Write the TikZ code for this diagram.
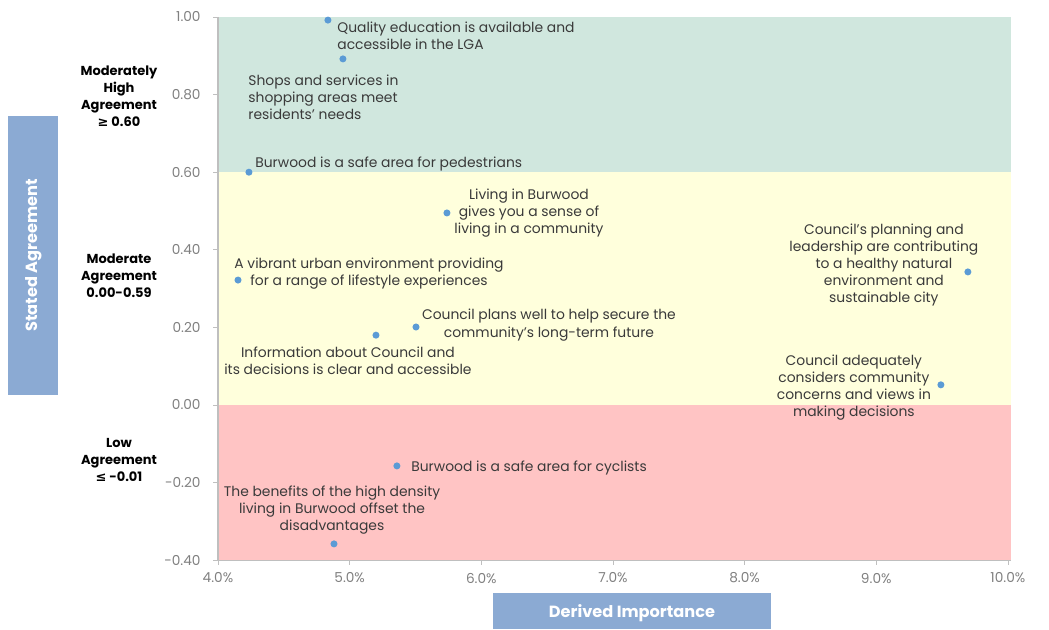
\documentclass[tikz,border=0pt]{standalone}
\usepackage{fontspec}
\setmainfont{Poppins}
\newfontfamily\symfont{DejaVu Sans}
\definecolor{highbg}{HTML}{D0E7DE}
\definecolor{midbg}{HTML}{FFFFDC}
\definecolor{lowbg}{HTML}{FFC4C4}
\definecolor{axisgray}{HTML}{BFBFBF}
\definecolor{ticktext}{HTML}{808080}
\definecolor{titlebox}{HTML}{8BAAD3}
\definecolor{dotblue}{HTML}{5B9BD5}
\definecolor{labeltext}{HTML}{3A3A3A}

\begin{document}
\begin{tikzpicture}[
  lbl/.style={font=\fontsize{7.9}{9.7}\selectfont, text=labeltext, inner sep=0pt},
  dot/.style={circle, fill=dotblue, inner sep=0pt, minimum size=4pt},
  band/.style={font=\bfseries\fontsize{7.4}{9.6}\selectfont, align=center},
  ticklbl/.style={font=\fontsize{7.8}{9}\selectfont, text=ticktext},
  axtitle/.style={text=white, font=\bfseries\fontsize{9.2}{11}\selectfont}
]
\useasboundingbox (0,0) rectangle (20.98,12.58);
%axis titles
\fill [titlebox] (0.16,4.68) rectangle (1.16,10.26);
\node (ytitle) [axtitle, rotate=90] at (0.68,7.47) {Stated Agreement};
\fill [titlebox] (9.86,0) rectangle (15.42,0.72);
\node (xtitle) [axtitle] at (12.64,0.32) {Derived Importance};
%band labels
\node (bhigh) [band] at (2.38,10.66) {Moderately\\High\\Agreement\\{\symfont ≥} 0.60};
\node (bmid) [band] at (2.38,7.06) {Moderate\\Agreement\\0.00-0.59};
\node (blow) [band] at (2.38,3.38) {Low\\Agreement\\{\symfont ≤} -0.01};

\begin{scope}[shift={(4.36,4.48)}, xscale=2.633, yscale=7.76]
%zones
\fill [highbg] (0,0.6) rectangle (6.02,1);
\fill [midbg] (0,0) rectangle (6.02,0.6);
\fill [lowbg] (0,-0.4) rectangle (6.02,0);
%axis
\draw [axisgray, semithick] (0,1) -- (0,-0.4) -- (6.02,-0.4);
\foreach \y [count=\i] in {-0.40,-0.20,0.00,0.20,0.40,0.60,0.80,1.00} {
  \draw [axisgray] (-0.038,\y) -- (0,\y);
  \node (ytick\i) [ticklbl, anchor=east] at (-0.085,\y) {\y};
}
\foreach \x [count=\i from 0] in {4.0,5.0,6.0,7.0,8.0,9.0,10.0} {
  \draw [axisgray] (\i,-0.4) -- (\i,-0.413);
  \node (xtick\i) [ticklbl] at (\i,-0.446) {\x\%};
}
%points
\node (pquality) [dot] at (0.835,0.992) {};
\node (pshops) [dot] at (0.949,0.892) {};
\node (pwalk) [dot] at (0.235,0.600) {};
\node (pliving) [dot] at (1.739,0.495) {};
\node (pnature) [dot] at (5.696,0.343) {};
\node (pvibrant) [dot] at (0.152,0.322) {};
\node (pplans) [dot] at (1.504,0.201) {};
\node (pinfo) [dot] at (1.200,0.180) {};
\node (pviews) [dot] at (5.491,0.052) {};
\node (pcycle) [dot] at (1.359,-0.157) {};
\node (pdensity) [dot] at (0.881,-0.358) {};
%labels
\node (lquality) [lbl, anchor=west, align=left] at (0.904,0.952) {Quality education is available and\\accessible in the LGA};
\node (lshops) [lbl, anchor=west, align=left] at (0.228,0.793) {Shops and services in\\shopping areas meet\\residents' needs};
\node (lwalk) [lbl, anchor=west] at (0.281,0.621) {Burwood is a safe area for pedestrians};
\node (lliving) [lbl, align=center] at (2.362,0.495) {Living in Burwood\\gives you a sense of\\living in a community};
\node (lnature) [lbl, align=center] at (5.058,0.361) {Council's planning and\\leadership are contributing\\to a healthy natural\\environment and\\sustainable city};
\node (lvibrant) [lbl, align=center] at (1.147,0.339) {A vibrant urban environment providing\\for a range of lifestyle experiences};
\node (lplans) [lbl, align=center] at (2.514,0.206) {Council plans well to help secure the\\community's long-term future};
\node (linfo) [lbl, align=center] at (0.987,0.113) {Information about Council and\\its decisions is clear and accessible};
\node (lviews) [lbl, align=center] at (4.830,0.044) {Council adequately\\considers community\\concerns and views in\\making decisions};
\node (lcycle) [lbl, anchor=west] at (1.466,-0.162) {Burwood is a safe area for cyclists};
\node (ldensity) [lbl, align=center] at (0.866,-0.271) {The benefits of the high density\\living in Burwood offset the\\disadvantages};
\end{scope}
\end{tikzpicture}
\end{document}
